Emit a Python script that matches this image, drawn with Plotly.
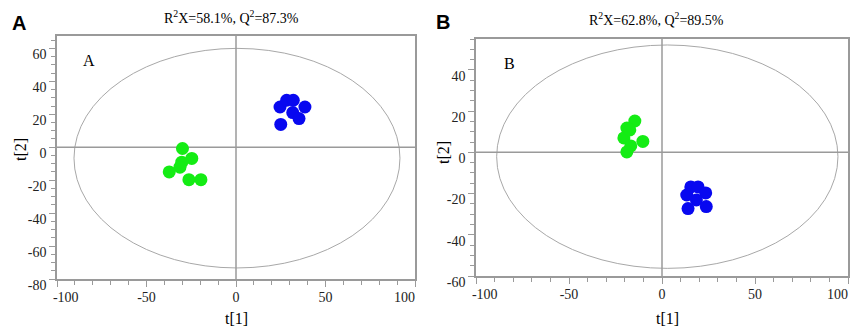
import plotly.graph_objects as go

# ---- data ----
a_blue_x = [24.6, 28.3, 32.0, 38.5, 31.7, 35.2, 25.0]
a_blue_y = [24.4, 28.5, 28.5, 24.4, 21.0, 17.4, 13.8]
a_green_x = [-29.9, -24.7, -30.3, -31.3, -37.3, -26.3, -19.6]
a_green_y = [-0.8, -6.8, -9.1, -12.1, -15.0, -19.7, -19.7]

b_green_x = [-14.6, -18.9, -20.5, -10.3, -16.8, -18.9, -17.3]
b_green_y = [15.2, 11.8, 7.0, 5.3, 3.1, 0.2, 10.9]
b_blue_x = [15.5, 19.4, 13.3, 23.5, 18.5, 23.8, 14.0]
b_blue_y = [-16.8, -16.8, -20.7, -19.7, -23.1, -26.3, -27.3]

# ellipse bounds [x0, x1, y0, y1]
a_ellipse = [-90.5, 91.6, -73.3, 60.0]
b_ellipse = [-88.9, 94.6, -56.3, 52.1]

a_title = "R<sup>2</sup>X=58.1%, Q<sup>2</sup>=87.3%"
b_title = "R<sup>2</sup>X=62.8%, Q<sup>2</sup>=89.5%"

NB = "\u00a0"
x_tickvals = [-100, -50, 0, 50, 100]
x_ticktext = [NB * 5 + "-100", "-50", "0", "50", "100" + NB * 6]
a_y_tickvals = [-80, -60, -40, -20, 0, 20, 40, 60]
a_y_ticktext = ["-80", "-60", "-40", "-20", "0", "20", "40", "60"]
b_y_tickvals = [-60, -40, -20, 0, 20, 40]
b_y_ticktext = ["-60", "-40", "-20", "0", "20", "40"]

a_yrange = [-80, 67.5]
b_yrange = [-60, 55]
xrange_ = [-100, 100]

W, H = 855, 327
BLUE = "#0808f0"
GREEN = "#14ec14"
GRAY = "#9a9a9a"
SERIF = "Times New Roman, Liberation Serif, serif"
SANS = "Arial, Liberation Sans, sans-serif"

fig = go.Figure()

def add_points(x, y, color, xa, ya):
    fig.add_trace(go.Scatter(x=x, y=y, mode="markers", xaxis=xa, yaxis=ya,
                             marker=dict(size=13, color=color, line=dict(width=0)),
                             showlegend=False, hoverinfo="skip"))

add_points(a_blue_x, a_blue_y, BLUE, "x", "y")
add_points(a_green_x, a_green_y, GREEN, "x", "y")
add_points(b_green_x, b_green_y, GREEN, "x2", "y2")
add_points(b_blue_x, b_blue_y, BLUE, "x2", "y2")

def px2paper_x(p):
    return p / W

def px2paper_y(p):
    return (H - p) / H

tf = dict(family=SERIF, size=14, color="#222")
xaxis_common = dict(range=xrange_, tickmode="array", tickvals=x_tickvals, ticktext=x_ticktext,
                    ticks="outside", ticklen=6, tickwidth=1, tickcolor=GRAY,
                    showline=True, linecolor=GRAY, linewidth=1.5, automargin=False,
                    mirror=True, showgrid=False, zeroline=False, ticklabeloverflow="allow",
                    ticklabelstandoff=-2,
                    minor=dict(dtick=10, tick0=0, ticks="outside", ticklen=4, tickwidth=1, tickcolor=GRAY),
                    tickfont=tf)
yaxis_common = dict(ticks="outside", tickmode="array", automargin=False,
                    ticklen=6, tickwidth=1, tickcolor=GRAY, showline=True, linecolor=GRAY, linewidth=1.5,
                    mirror=True, showgrid=False, zeroline=False, ticklabelshift=6,
                    ticklabeloverflow="allow",
                    minor=dict(dtick=5, tick0=0, ticks="outside", ticklen=4, tickwidth=1, tickcolor=GRAY),
                    tickfont=tf)

fig.update_layout(
    template="none",
    width=W, height=H, margin=dict(l=0, r=0, t=0, b=0, pad=0),
    paper_bgcolor="white", plot_bgcolor="white",
    font=dict(family=SERIF, size=14, color="#222"),
    xaxis=dict(domain=[px2paper_x(57), px2paper_x(415)], anchor="y", **xaxis_common),
    yaxis=dict(domain=[px2paper_y(279), px2paper_y(36)], anchor="x", range=a_yrange,
               tickvals=a_y_tickvals, ticktext=a_y_ticktext, **yaxis_common),
    xaxis2=dict(domain=[px2paper_x(476), px2paper_x(848)], anchor="y2", **xaxis_common),
    yaxis2=dict(domain=[px2paper_y(276), px2paper_y(39)], anchor="x2", range=b_yrange,
                tickvals=b_y_tickvals, ticktext=b_y_ticktext, **yaxis_common),
)

# ellipses and cross lines
for (xr, yr, ell, yrng) in [("x", "y", a_ellipse, a_yrange), ("x2", "y2", b_ellipse, b_yrange)]:
    fig.add_shape(type="circle", xref=xr, yref=yr, x0=ell[0], x1=ell[1], y0=ell[2], y1=ell[3],
                  line=dict(color="#a8a8a8", width=1), layer="below")
    fig.add_shape(type="line", xref=xr, yref=yr, x0=0, x1=0, y0=yrng[0], y1=yrng[1],
                  line=dict(color=GRAY, width=1.5), layer="below")
    fig.add_shape(type="line", xref=xr, yref=yr, x0=xrange_[0], x1=xrange_[1], y0=0, y1=0,
                  line=dict(color=GRAY, width=1.5), layer="below")

def ann(text, xp, yp, size, family=SERIF, bold=False, angle=0):
    fig.add_annotation(text=("<b>%s</b>" % text) if bold else text,
                       x=px2paper_x(xp), y=px2paper_y(yp), xref="paper", yref="paper",
                       showarrow=False, xanchor="center", yanchor="middle", textangle=angle,
                       font=dict(family=family, size=size, color="black"))

# titles
ann(a_title, 232, 17, 14)
ann(b_title, 656, 19, 14)
# panel letters
ann("A", 19, 23, 20, family=SANS, bold=True)
ann("B", 443, 22, 20, family=SANS, bold=True)
# inner labels
ann("A", 89, 60, 16)
ann("B", 509, 64, 16)
# axis titles
ann("t[1]", 236, 318, 16)
ann("t[1]", 667, 318, 16)
ann("t[2]", 20, 150, 16, angle=-90)
ann("t[2]", 443, 153, 16, angle=-90)

fig.write_html("out.html")
